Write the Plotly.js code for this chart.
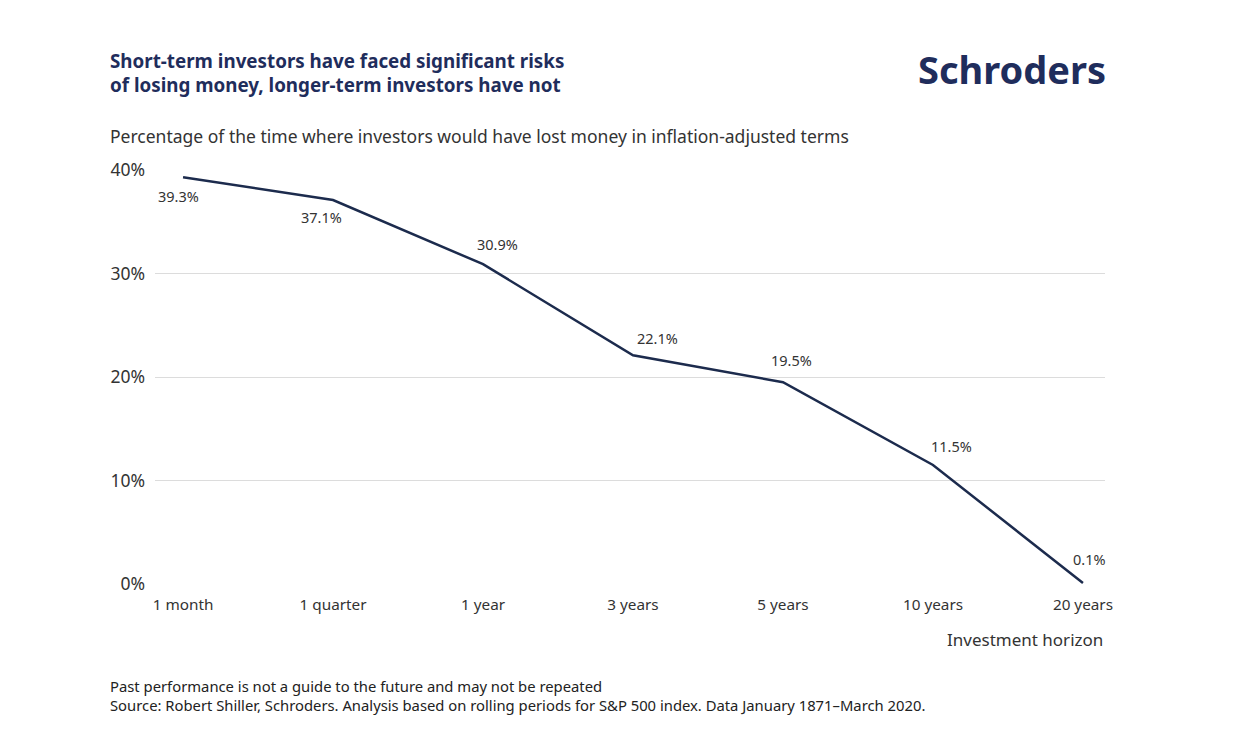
<!DOCTYPE html>
<html>
<head>
<meta charset="utf-8">
<script src="https://cdn.plot.ly/plotly-3.0.1.min.js"></script>
<style>
html,body{margin:0;padding:0;background:#fff;}
#chart{width:1242px;height:742px;}
</style>
</head>
<body>
<div id="chart"></div>
<script>
const categories = ["1 month", "1 quarter", "1 year", "3 years", "5 years", "10 years", "20 years"];
const values = [39.3, 37.1, 30.9, 22.1, 19.5, 11.5, 0.1];
const valueLabels = ["39.3%", "37.1%", "30.9%", "22.1%", "19.5%", "11.5%", "0.1%"];
const yTickVals = [0, 10, 20, 30, 40];
const yTickText = ["0%", "10%", "20%", "30%", "40%"];

// label offsets (style only)
const labelDx = [-5, -12, 14, 24, 9, 19, 7];
const labelDy = [-19, -17, 20, 17, 22, 19, 24];

const navy = "#1c2b4d";
const font = "Noto Sans, Open Sans, sans-serif";

const annotations = categories.map((c, i) => ({
  x: c, y: values[i], xref: "x", yref: "y",
  text: valueLabels[i], showarrow: false,
  xshift: labelDx[i], yshift: labelDy[i],
  font: {family: font, size: 14.5, color: "#333"}
}));

annotations.push(
  {xref: "paper", yref: "paper", x: 1, y: 0, xanchor: "right", yanchor: "top", yshift: -42,
   text: "Investment horizon", showarrow: false, font: {family: font, size: 17, color: "#333"}},
  {xref: "paper", yref: "paper", x: -0.0496, xanchor: "left", y: 1, yanchor: "bottom", yshift: 20,
   text: "Percentage of the time where investors would have lost money in inflation-adjusted terms",
   showarrow: false, font: {family: font, size: 17.5, color: "#333"}},
  {xref: "paper", yref: "paper", x: -0.0496, xanchor: "left", y: 1, yanchor: "bottom", yshift: 70,
   text: "<b>Short-term investors have faced significant risks<br>of losing money, longer-term investors have not</b>",
   align: "left", showarrow: false, font: {family: font, size: 18.8, color: "#1f2d5c"}},
  {xref: "paper", yref: "paper", x: 1.003, xanchor: "right", y: 1, yanchor: "bottom", yshift: 73,
   text: "<b>Schroders</b>", showarrow: false, font: {family: font, size: 38, color: "#1f2d5c"}},
  {xref: "paper", yref: "paper", x: -0.0496, xanchor: "left", y: 0, yanchor: "top", yshift: -90,
   text: "Past performance is not a guide to the future and may not be repeated<br>Source: Robert Shiller, Schroders. Analysis based on rolling periods for S&P 500 index. Data January 1871\u2013March 2020.",
   align: "left", showarrow: false, font: {family: font, size: 14.8, color: "#222"}}
);

const trace = {
  x: categories, y: values, type: "scatter", mode: "lines",
  line: {color: navy, width: 2.5}, hoverinfo: "skip", cliponaxis: false
};

const layout = {
  width: 1242, height: 742,
  margin: {l: 155, r: 137, t: 170, b: 158},
  paper_bgcolor: "#fff", plot_bgcolor: "#fff",
  showlegend: false,
  xaxis: {
    type: "category", range: [-0.187, 6.147],
    showgrid: false, zeroline: false, showline: false, ticks: "",
    tickfont: {family: font, size: 15.3, color: "#333"}, ticklabelstandoff: 10
  },
  yaxis: {
    range: [0, 40], tickvals: yTickVals, ticktext: yTickText,
    showgrid: true, gridcolor: "#dcdcdc", gridwidth: 1,
    zeroline: false, showline: false, ticks: "",
    tickfont: {family: font, size: 17.5, color: "#333"}, ticklabelstandoff: 9
  },
  annotations: annotations
};

Plotly.newPlot("chart", [trace], layout, {displayModeBar: false, staticPlot: true});
</script>
</body>
</html>
